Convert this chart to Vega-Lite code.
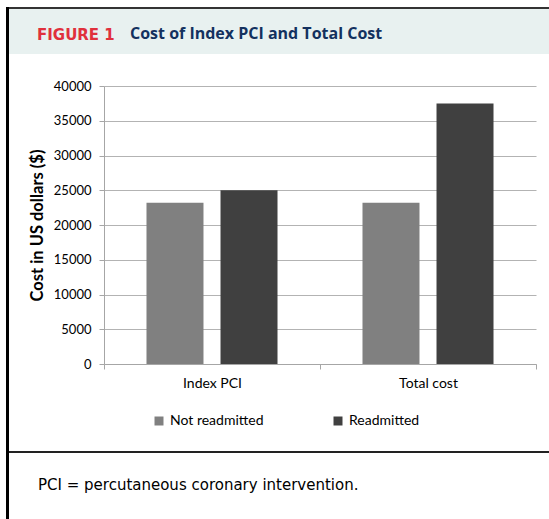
{
  "$schema": "https://vega.github.io/schema/vega-lite/v6.json",
  "padding": {"left": 6, "top": 7, "right": 0, "bottom": 0},
  "background": "white",
  "config": {"view": {"stroke": null}, "concat": {"spacing": 0}},
  "datasets": {
    "empty": [],
    "costs": [
      {"cat": "Index PCI", "group": "Not readmitted", "cost": 23200},
      {"cat": "Index PCI", "group": "Readmitted", "cost": 25000},
      {"cat": "Total cost", "group": "Not readmitted", "cost": 23200},
      {"cat": "Total cost", "group": "Readmitted", "cost": 37500}
    ]
  },
  "hconcat": [
    {
      "width": 3, "height": 512,
      "view": {"fill": "#000000", "stroke": null},
      "data": {"name": "empty"},
      "mark": {"type": "point"},
      "encoding": {}
    },
    {
      "spacing": 0,
      "vconcat": [
        {
          "width": 540, "height": 2,
          "view": {"fill": "#333333", "stroke": null},
          "data": {"name": "empty"},
          "mark": {"type": "point"},
          "encoding": {}
        },
        {
          "spacing": 0,
          "title": {"text": "Cost of Index PCI and Total Cost", "orient": "top", "anchor": "start", "frame": "bounds", "dx": 121, "offset": -41, "baseline": "middle", "font": "Open Sans", "fontSize": 16, "fontWeight": "bold", "color": "#13315f"},
          "vconcat": [
            {
              "width": 540, "height": 45,
              "view": {"fill": "#e8f1f0", "stroke": null},
              "title": {"text": "FIGURE 1", "orient": "top", "anchor": "start", "dx": 28, "offset": -41, "baseline": "middle", "font": "DejaVu Sans", "fontSize": 15, "fontWeight": "bold", "color": "#e0303c"},
              "data": {"name": "empty"},
              "mark": {"type": "point"},
              "encoding": {}
            }
          ]
        },
        {
          "width": 540, "height": 26,
          "data": {"name": "empty"},
          "mark": {"type": "point"},
          "encoding": {}
        },
        {
          "spacing": 0,
          "hconcat": [
            {
              "width": 20, "height": 10,
              "data": {"name": "empty"},
              "mark": {"type": "point"},
              "encoding": {}
            },
            {
              "width": 432, "height": 278,
              "data": {"name": "costs"},
              "mark": {"type": "bar"},
              "encoding": {
                "x": {
                  "field": "cat", "type": "nominal", "sort": null,
                  "scale": {"paddingInner": 0, "paddingOuter": 0},
                  "axis": {"title": null, "labelAngle": 0, "tickBand": "extent", "grid": false,
                    "domainColor": "#a6a6a6", "tickColor": "#a6a6a6", "tickSize": 5,
                    "labelFont": "Lato", "labelFontSize": 14, "labelColor": "#000000", "labelPadding": 7}
                },
                "xOffset": {"field": "group", "type": "nominal", "scale": {"paddingInner": 0.23, "paddingOuter": 0.574}},
                "y": {
                  "field": "cost", "type": "quantitative",
                  "scale": {"domain": [0, 40000]},
                  "axis": {"title": "Cost in US dollars ($)", "values": [0, 5000, 10000, 15000, 20000, 25000, 30000, 35000, 40000],
                    "format": "d", "grid": true, "gridColor": "#b3b3b3", "domainColor": "#a6a6a6", "tickColor": "#a6a6a6", "tickSize": 5,
                    "labelFont": "Lato", "labelFontSize": 13, "labelColor": "#000000", "labelPadding": 8,
                    "titleFont": "Lato", "titleFontSize": 16.5, "titleFontWeight": "bold", "titleColor": "#000000", "titlePadding": 8}
                },
                "color": {
                  "field": "group", "type": "nominal",
                  "scale": {"domain": ["Not readmitted", "Readmitted"], "range": ["#808080", "#404040"]},
                  "legend": {"title": null, "orient": "none", "legendX": 146, "legendY": 407, "direction": "horizontal",
                    "symbolType": "square", "symbolSize": 81, "symbolStrokeWidth": 0, "padding": 0,
                    "labelFont": "Lato", "labelFontSize": 14, "labelColor": "#000000", "labelOffset": 4, "columnPadding": 67}
                }
              }
            }
          ]
        },
        {
          "width": 540, "height": 61,
          "data": {"name": "empty"},
          "mark": {"type": "point"},
          "encoding": {}
        },
        {
          "width": 540, "height": 2,
          "view": {"fill": "#222222", "stroke": null},
          "data": {"name": "empty"},
          "mark": {"type": "point"},
          "encoding": {}
        },
        {
          "width": 540, "height": 65,
          "view": {"fill": "#ffffff", "stroke": null},
          "title": {"text": "PCI = percutaneous coronary intervention.", "orient": "top", "anchor": "start", "dx": 29, "offset": -47, "baseline": "middle", "font": "DejaVu Sans", "fontSize": 15, "fontWeight": "normal", "color": "#000000"},
          "data": {"name": "empty"},
          "mark": {"type": "point"},
          "encoding": {}
        }
      ]
    }
  ]
}
